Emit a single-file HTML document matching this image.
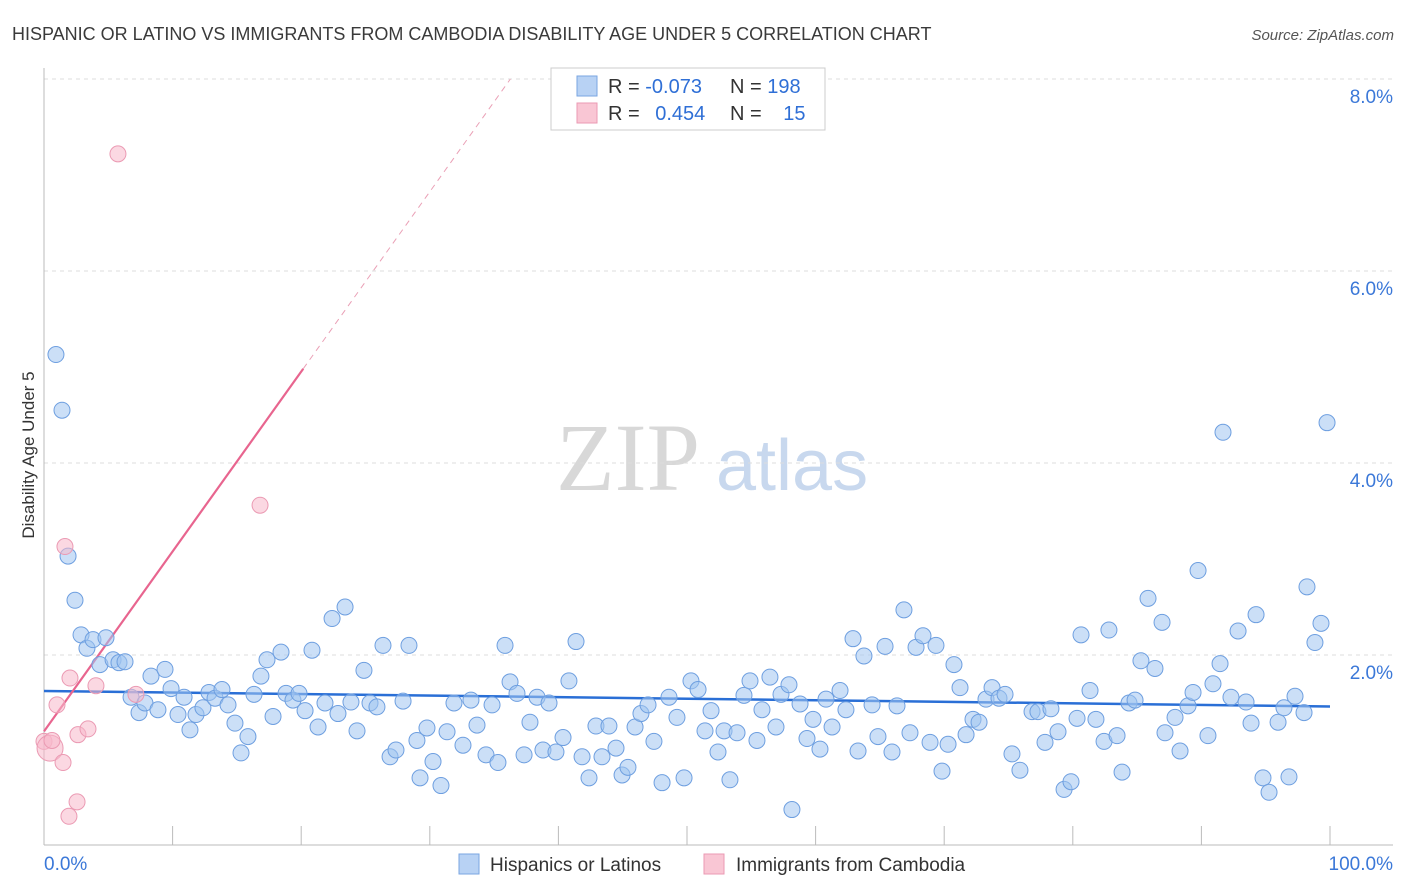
<!DOCTYPE html>
<html><head><meta charset="utf-8">
<style>
body{margin:0;background:#fff;font-family:"Liberation Sans",sans-serif;}
#wrap{position:relative;width:1406px;height:892px;overflow:hidden;}
</style></head>
<body>
<div id="wrap">
<svg id="chart" width="1406" height="892">
<text x="12" y="40" font-size="18" fill="#3a3a3a">HISPANIC OR LATINO VS IMMIGRANTS FROM CAMBODIA DISABILITY AGE UNDER 5 CORRELATION CHART</text>
<text x="1394" y="40" font-size="15" fill="#555" text-anchor="end" font-style="italic">Source: ZipAtlas.com</text>
<text x="34" y="455" font-size="17" fill="#333" text-anchor="middle" transform="rotate(-90 34 455)">Disability Age Under 5</text>
<text x="556" y="490" font-size="96" fill="#d8d8d8" font-family="Liberation Serif,serif">ZIP</text>
<text x="716" y="490" font-size="72" fill="#c8d8ee">atlas</text>
<g id="grid"></g><g id="axes"></g><g id="lines"></g><g id="pts"></g>
<g>
<rect x="551" y="68" width="274" height="62" fill="#fff" stroke="#ccc"/>
<rect x="577" y="76" width="20" height="20" fill="#b8d2f4" stroke="#7aa6e2"/>
<rect x="577" y="103" width="20" height="20" fill="#f9c6d4" stroke="#eb9ab3"/>
<text x="608" y="93" font-size="20" fill="#333">R = <tspan fill="#2f6fd6">-0.073</tspan></text>
<text x="730" y="93" font-size="20" fill="#333">N = <tspan fill="#2f6fd6">198</tspan></text>
<text x="608" y="120" font-size="20" fill="#333">R = <tspan fill="#2f6fd6" dx="10">0.454</tspan></text>
<text x="730" y="120" font-size="20" fill="#333">N = <tspan fill="#2f6fd6" dx="16">15</tspan></text>
</g>
<g>
<rect x="459" y="854" width="20" height="20" fill="#b8d2f4" stroke="#7aa6e2"/>
<text x="490" y="871" font-size="19" fill="#333">Hispanics or Latinos</text>
<rect x="704" y="854" width="20" height="20" fill="#f9c6d4" stroke="#eb9ab3"/>
<text x="736" y="871" font-size="19" fill="#333">Immigrants from Cambodia</text>
</g>
</svg>
</div>
<script>
const yTicks=[2,4,6,8];
const xTickLabels=["0.0%","100.0%"];
const blueX=[0.93,1.40,1.87,2.41,2.88,3.34,3.81,4.35,4.82,5.37,5.83,6.30,6.77,7.39,7.85,8.32,8.86,9.41,9.88,10.42,10.89,11.35,11.82,12.36,12.83,13.30,13.84,14.31,14.85,15.32,15.86,16.33,16.87,17.34,17.81,18.43,18.82,19.36,19.83,20.30,20.84,21.31,21.85,22.40,22.86,23.41,23.87,24.34,24.88,25.35,25.89,26.36,26.91,27.37,27.92,28.38,29.00,29.24,29.78,30.25,30.87,31.34,31.88,32.58,33.20,33.67,34.37,34.84,35.30,35.85,36.24,36.78,37.33,37.79,38.34,38.80,39.27,39.81,40.36,40.82,41.37,41.84,42.38,42.92,43.39,43.93,44.48,44.95,45.41,45.96,46.42,46.97,47.43,48.06,48.60,49.22,49.77,50.31,50.86,51.40,51.87,52.41,52.88,53.34,53.89,54.43,54.90,55.44,55.83,56.45,56.92,57.31,57.93,58.16,58.79,59.33,59.80,60.34,60.81,61.28,61.90,62.36,62.91,63.30,63.76,64.39,64.85,65.40,65.94,66.33,66.87,67.34,67.81,68.35,68.90,69.36,69.83,70.30,70.76,71.23,71.70,72.24,72.71,73.25,73.72,74.26,74.73,75.27,75.89,76.83,77.29,77.84,78.30,78.85,79.32,79.86,80.33,80.64,81.34,81.80,82.43,82.81,83.44,83.83,84.37,84.84,85.30,85.85,86.39,86.94,87.17,87.95,88.34,88.96,89.35,89.74,90.51,90.90,91.45,91.68,92.30,92.85,93.47,93.86,94.25,94.79,95.26,95.96,96.42,96.81,97.28,97.98,98.21,98.83,99.30,99.77];
const blueY=[5.13,4.55,3.03,2.57,2.21,2.07,2.16,1.90,2.18,1.95,1.92,1.93,1.56,1.40,1.50,1.78,1.43,1.85,1.65,1.38,1.56,1.22,1.38,1.45,1.61,1.55,1.64,1.48,1.29,0.98,1.15,1.59,1.78,1.95,1.36,2.03,1.60,1.53,1.60,1.42,2.05,1.25,1.50,2.38,1.39,2.50,1.51,1.21,1.84,1.50,1.46,2.10,0.94,1.01,1.52,2.10,1.11,0.72,1.24,0.89,0.64,1.20,1.50,1.06,1.53,1.27,0.96,1.48,0.88,2.10,1.72,1.60,0.96,1.30,1.56,1.01,1.50,0.99,1.14,1.73,2.14,0.94,0.72,1.26,0.94,1.26,1.03,0.75,0.83,1.25,1.39,1.48,1.10,0.67,1.56,1.35,0.72,1.73,1.64,1.21,1.42,0.99,1.21,0.70,1.19,1.58,1.73,1.11,1.43,1.77,1.25,1.59,1.69,0.39,1.49,1.13,1.33,1.02,1.54,1.25,1.63,1.43,2.17,1.00,1.99,1.48,1.15,2.09,0.99,1.47,2.47,1.19,2.08,2.20,1.09,2.10,0.79,1.07,1.90,1.66,1.17,1.33,1.30,1.54,1.66,1.55,1.59,0.97,0.80,1.41,1.41,1.09,1.44,1.20,0.60,0.68,1.34,2.21,1.63,1.33,1.10,2.26,1.16,0.78,1.50,1.53,1.94,2.59,1.86,2.34,1.19,1.35,1.00,1.47,1.61,2.88,1.16,1.70,1.91,4.32,1.56,2.25,1.51,1.29,2.42,0.72,0.57,1.30,1.45,0.73,1.57,1.40,2.71,2.13,2.33,4.42];
const pinkX=[0,0.47,0.62,1.01,1.63,2.02,1.48,1.94,2.57,2.64,3.42,4.04,5.75,7.15,16.80];
const pinkY=[1.10,1.03,1.11,1.48,3.13,1.76,0.88,0.32,0.47,1.17,1.23,1.68,7.22,1.59,3.56];
const X0=44,X1=1330,Y0=847,PPY=96;
const sx=v=>X0+(X1-X0)*v/100, sy=v=>Y0-v*PPY;
const NS="http://www.w3.org/2000/svg";
function mk(parent,tag,attrs){const e=document.createElementNS(NS,tag);for(const k in attrs)e.setAttribute(k,attrs[k]);document.getElementById(parent).appendChild(e);return e;}
yTicks.forEach(t=>{
 const g=mk('grid','line',{x1:44,x2:1393,y1:sy(t),y2:sy(t),stroke:'#ddd','stroke-dasharray':'4,4'});
 
 
 const l=mk('grid','text',{x:1393,y:sy(t)+24,'font-size':19,fill:'#3b78d8','text-anchor':'end'});
 l.textContent=t.toFixed(1)+'%';
 
 
});
const topGrid=mk('grid','line',{x1:44,x2:1393,y1:79,y2:79,stroke:'#ddd','stroke-dasharray':'4,4'});


const ax=mk('axes','line',{x1:44,x2:1393,y1:845,y2:845,stroke:'#bbb'});


const ay=mk('axes','line',{x1:44,x2:44,y1:68,y2:845,stroke:'#bbb'});


for(let i=1;i<=10;i++){
 const t=mk('axes','line',{x1:sx(i*10),x2:sx(i*10),y1:826,y2:845,stroke:'#bbb'});
 
 
}
const xl0=mk('axes','text',{x:44,y:870,'font-size':19,fill:'#3b78d8'});xl0.textContent=xTickLabels[0];


const xl1=mk('axes','text',{x:1393,y:870,'font-size':19,fill:'#3b78d8','text-anchor':'end'});xl1.textContent=xTickLabels[1];


function fit(xs,ys){const n=xs.length;let mx=0,my=0;for(let i=0;i<n;i++){mx+=xs[i];my+=ys[i];}mx/=n;my/=n;let a=0,b=0;for(let i=0;i<n;i++){a+=(xs[i]-mx)*(ys[i]-my);b+=(xs[i]-mx)**2;}const s=a/b;return [s,my-s*mx];}
blueX.forEach((x,i)=>{
 const c=mk('pts','circle',{cx:sx(x),cy:sy(blueY[i]),r:8,fill:'rgba(160,196,240,0.55)',stroke:'#6e9fe0','stroke-width':1});
 
 
});
pinkX.forEach((x,i)=>{
 const c=mk('pts','circle',{cx:sx(x),cy:sy(pinkY[i]),r:i===1?13:8,fill:'rgba(248,184,202,0.55)',stroke:'#eb9ab3','stroke-width':1});
 
 
});
const [bs,bi]=fit(blueX,blueY);
const bl=mk('lines','line',{x1:sx(0),y1:sy(bi),x2:sx(100),y2:sy(bi+bs*100),stroke:'#2a6fd6','stroke-width':2.5});


const [ps,pi]=fit(pinkX,pinkY);
const xmax=Math.max(...pinkX)*1.2;
const pl=mk('lines','line',{x1:sx(0),y1:sy(pi),x2:sx(xmax),y2:sy(pi+ps*xmax),stroke:'#e8658f','stroke-width':2.2});


const xe=(8-pi)/ps;
const pd=mk('lines','line',{x1:sx(xmax),y1:sy(pi+ps*xmax),x2:sx(xe),y2:sy(8),stroke:'#eaa0b6','stroke-width':1,'stroke-dasharray':'6,5'});


</script>
</body></html>
